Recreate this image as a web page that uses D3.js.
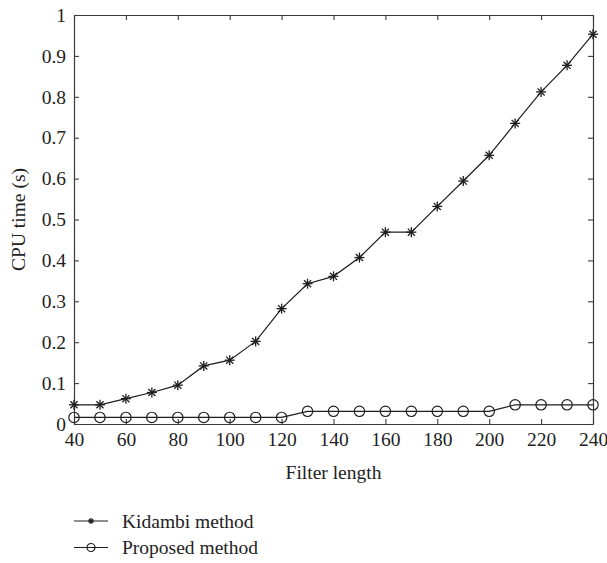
<!DOCTYPE html>
<html>
<head>
<meta charset="utf-8">
<script src="https://cdn.jsdelivr.net/npm/d3@7"></script>
<style>
  body { margin: 0; background: #fff; }
</style>
</head>
<body>
<script>
// data
var filterLengths = [40, 50, 60, 70, 80, 90, 100, 110, 120, 130, 140, 150, 160, 170, 180, 190, 200, 210, 220, 230, 240];
var kidambi = [0.047, 0.047, 0.062, 0.077, 0.095, 0.142, 0.156, 0.202, 0.282, 0.343, 0.361, 0.407, 0.469, 0.469, 0.532, 0.594, 0.657, 0.735, 0.812, 0.877, 0.953];
var proposed = [0.016, 0.016, 0.016, 0.016, 0.016, 0.016, 0.016, 0.016, 0.016, 0.031, 0.031, 0.031, 0.031, 0.031, 0.031, 0.031, 0.031, 0.047, 0.047, 0.047, 0.047];
var xTicks = [40, 60, 80, 100, 120, 140, 160, 180, 200, 220, 240];
var yTicks = [0, 0.1, 0.2, 0.3, 0.4, 0.5, 0.6, 0.7, 0.8, 0.9, 1];
var seriesNames = ["Kidambi method", "Proposed method"];

var width = 607, height = 563;
var margin = {top: 15, right: 14, bottom: 139, left: 74},
	plotW = width - margin.left - margin.right,
	plotH = height - margin.top - margin.bottom;

var serif = "'Liberation Serif', 'Times New Roman', serif";
var fontSize = 19.5;

var svg = d3.select("body").append("svg")
	.attr("width", width)
	.attr("height", height);

var x = d3.scaleLinear().domain([40, 240]).range([0, plotW]);
var y = d3.scaleLinear().domain([0, 1]).range([plotH, 0]);

var g = svg.append("g")
	.attr("transform", "translate(" + margin.left + "," + margin.top + ")");

var axisColor = "#3a3a3a";
var tickLen = 5;
var fmt = d => d === 0 ? "0" : d === 1 ? "1" : d3.format(".1f")(d);

// bottom axis with labels, ticks pointing inward
var xb = g.append("g")
	.attr("transform", "translate(0," + plotH + ")")
	.call(d3.axisBottom(x).tickValues(xTicks).tickSizeInner(-tickLen).tickSizeOuter(0).tickPadding(8));
// top axis, ticks only
var xt = g.append("g")
	.call(d3.axisTop(x).tickValues(xTicks).tickSizeInner(-tickLen).tickSizeOuter(0).tickFormat(""));
// left axis with labels
var yl = g.append("g")
	.call(d3.axisLeft(y).tickValues(yTicks).tickSizeInner(-tickLen).tickSizeOuter(0).tickPadding(8).tickFormat(fmt));
// right axis, ticks only
var yr = g.append("g")
	.attr("transform", "translate(" + plotW + ",0)")
	.call(d3.axisRight(y).tickValues(yTicks).tickSizeInner(-tickLen).tickSizeOuter(0).tickFormat(""));

[xb, xt, yl, yr].forEach(function(a) {
	a.attr("font-family", null);
	a.select(".domain").attr("stroke", axisColor).attr("stroke-width", 1.2);
	a.selectAll(".tick line").attr("stroke", axisColor).attr("stroke-width", 1.1);
	a.selectAll(".tick text")
		.style("font-family", serif)
		.style("font-size", fontSize + "px")
		.attr("fill", "#222");
});

// axis titles
svg.append("text")
	.attr("x", margin.left + plotW / 2)
	.attr("y", 479)
	.attr("text-anchor", "middle")
	.style("font-family", serif)
	.style("font-size", fontSize + "px")
	.attr("fill", "#222")
	.text("Filter length");

svg.append("text")
	.attr("transform", "translate(25," + (margin.top + plotH / 2) + ") rotate(-90)")
	.attr("text-anchor", "middle")
	.style("font-family", serif)
	.style("font-size", fontSize + "px")
	.attr("fill", "#222")
	.text("CPU time (s)");

var lineColor = "#1e1e1e";
var line = d3.line()
	.x((d, i) => x(filterLengths[i]))
	.y(d => y(d));

// asterisk marker
function star(sel, r) {
	sel.each(function() {
		var s = d3.select(this);
		for (var k = 0; k < 4; k++) {
			var a = k * Math.PI / 4;
			s.append("line")
				.attr("x1", -r * Math.cos(a)).attr("y1", -r * Math.sin(a))
				.attr("x2", r * Math.cos(a)).attr("y2", r * Math.sin(a))
				.attr("stroke", lineColor)
				.attr("stroke-width", 1.3);
		}
	});
}

// Kidambi
g.append("path")
	.datum(kidambi)
	.attr("d", line)
	.attr("fill", "none")
	.attr("stroke", lineColor)
	.attr("stroke-width", 1.2);

g.append("g").selectAll("g")
	.data(kidambi)
	.enter().append("g")
	.attr("transform", (d, i) => "translate(" + x(filterLengths[i]) + "," + y(d) + ")")
	.call(star, 5);

// Proposed
g.append("path")
	.datum(proposed)
	.attr("d", line)
	.attr("fill", "none")
	.attr("stroke", lineColor)
	.attr("stroke-width", 1.2);

g.append("g").selectAll("circle")
	.data(proposed)
	.enter().append("circle")
	.attr("cx", (d, i) => x(filterLengths[i]))
	.attr("cy", d => y(d))
	.attr("r", 5.2)
	.attr("fill", "none")
	.attr("stroke", lineColor)
	.attr("stroke-width", 1.2);

// legend
var legend = svg.append("g").attr("transform", "translate(74,521)");
seriesNames.forEach(function(name, i) {
	var row = legend.append("g").attr("transform", "translate(0," + (i * 26.5) + ")");
	row.append("line")
		.attr("x1", 0).attr("x2", 34)
		.attr("stroke", lineColor)
		.attr("stroke-width", 1.2);
	if (i === 0) {
		row.append("g").attr("transform", "translate(17,0)").call(star, 3);
	} else {
		row.append("circle")
			.attr("cx", 17).attr("r", 4)
			.attr("fill", "none")
			.attr("stroke", lineColor)
			.attr("stroke-width", 1.2);
	}
	row.append("text")
		.attr("x", 48)
		.attr("y", 6.5)
		.style("font-family", serif)
		.style("font-size", fontSize + "px")
		.attr("fill", "#222")
		.text(name);
});
</script>
</body>
</html>
